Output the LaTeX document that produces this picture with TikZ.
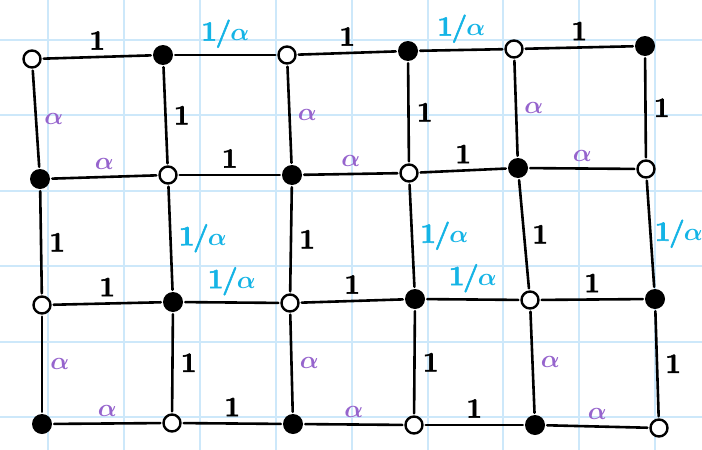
\documentclass[tikz,border=0pt]{standalone}
\usepackage{amsmath}
\usepackage{fontspec}
\setmainfont{Latin Modern Roman}[BoldFeatures={FakeBold=2}]
\usetikzlibrary{positioning}
\definecolor{gridblue}{RGB}{205,232,250}
\definecolor{acyan}{RGB}{20,180,230}
\definecolor{apurple}{RGB}{150,100,205}
\newcommand{\alf}{$\boldsymbol{\alpha}$}
\newcommand{\inva}{1\kern-1.5pt/\kern-1pt\alf}
\begin{document}
\begin{tikzpicture}[x=1pt,y=-1pt,
  openv/.style={circle,draw=black,fill=white,line width=2.4pt,minimum size=17pt,inner sep=0pt},
  fullv/.style={circle,fill=black,minimum size=20pt,inner sep=0pt},
  edge/.style={line width=2.6pt,line cap=round,shorten <=2pt,shorten >=2pt},
  lab/.style={font=\fontsize{28}{28}\selectfont\bfseries,inner sep=1pt},
  one/.style={lab,text=black},
  al/.style={lab,text=apurple},
  inv/.style={lab,text=acyan},
  ab/.style={midway,above=5pt},
  rt/.style={midway,right=6pt}
]
\fill[white] (0,0) rectangle (702,450);
\useasboundingbox (0,0) rectangle (702,450);
\foreach \k in {0,...,8} \draw[gridblue,line width=2pt] ({48+75.9*\k},0) -- ({48+75.9*\k},450);
\foreach \k in {0,...,5} \draw[gridblue,line width=2pt] (0,{40+75.4*\k}) -- (702,{40+75.4*\k});

% row 0
\node[openv] (v00) at (32,59) {};
\node[fullv] (v01) at (163,55) {};
\node[openv] (v02) at (287,55) {};
\node[fullv] (v03) at (408,51) {};
\node[openv] (v04) at (514,49) {};
\node[fullv] (v05) at (645,46) {};
% row 1
\node[fullv] (v10) at (40,179) {};
\node[openv] (v11) at (168,175) {};
\node[fullv] (v12) at (292,175) {};
\node[openv] (v13) at (409,173) {};
\node[fullv] (v14) at (518,168) {};
\node[openv] (v15) at (646,169) {};
% row 2
\node[openv] (v20) at (42,305) {};
\node[fullv] (v21) at (173,302) {};
\node[openv] (v22) at (290,303) {};
\node[fullv] (v23) at (415,299) {};
\node[openv] (v24) at (530,300) {};
\node[fullv] (v25) at (655,299) {};
% row 3
\node[fullv] (v30) at (42,424) {};
\node[openv] (v31) at (172,423) {};
\node[fullv] (v32) at (293,424) {};
\node[openv] (v33) at (414,425) {};
\node[fullv] (v34) at (535,425) {};
\node[openv] (v35) at (659,428) {};

% horizontal edges
\draw[edge] (v00) -- node[one,ab] (h00) {1} (v01);
\draw[edge] (v01) -- node[inv,ab] (h01) {\inva} (v02);
\draw[edge] (v02) -- node[one,ab] (h02) {1} (v03);
\draw[edge] (v03) -- node[inv,ab] (h03) {\inva} (v04);
\draw[edge] (v04) -- node[one,ab] (h04) {1} (v05);

\draw[edge] (v10) -- node[al,ab] (h10) {\alf} (v11);
\draw[edge] (v11) -- node[one,ab] (h11) {1} (v12);
\draw[edge] (v12) -- node[al,ab] (h12) {\alf} (v13);
\draw[edge] (v13) -- node[one,ab] (h13) {1} (v14);
\draw[edge] (v14) -- node[al,ab] (h14) {\alf} (v15);

\draw[edge] (v20) -- node[one,ab] (h20) {1} (v21);
\draw[edge] (v21) -- node[inv,ab] (h21) {\inva} (v22);
\draw[edge] (v22) -- node[one,ab] (h22) {1} (v23);
\draw[edge] (v23) -- node[inv,ab] (h23) {\inva} (v24);
\draw[edge] (v24) -- node[one,ab] (h24) {1} (v25);

\draw[edge] (v30) -- node[al,ab] (h30) {\alf} (v31);
\draw[edge] (v31) -- node[one,ab] (h31) {1} (v32);
\draw[edge] (v32) -- node[al,ab] (h32) {\alf} (v33);
\draw[edge] (v33) -- node[one,ab] (h33) {1} (v34);
\draw[edge] (v34) -- node[al,ab] (h34) {\alf} (v35);

% vertical edges
\draw[edge] (v00) -- node[al,rt] (u00) {\alf} (v10);
\draw[edge] (v01) -- node[one,rt] (u01) {1} (v11);
\draw[edge] (v02) -- node[al,rt] (u02) {\alf} (v12);
\draw[edge] (v03) -- node[one,rt] (u03) {1} (v13);
\draw[edge] (v04) -- node[al,rt] (u04) {\alf} (v14);
\draw[edge] (v05) -- node[one,rt] (u05) {1} (v15);

\draw[edge] (v10) -- node[one,rt] (u10) {1} (v20);
\draw[edge] (v11) -- node[inv,rt] (u11) {\inva} (v21);
\draw[edge] (v12) -- node[one,rt] (u12) {1} (v22);
\draw[edge] (v13) -- node[inv,rt] (u13) {\inva} (v23);
\draw[edge] (v14) -- node[one,rt] (u14) {1} (v24);
\draw[edge] (v15) -- node[inv,midway,right=2pt] (u15) {\inva} (v25);

\draw[edge] (v20) -- node[al,rt] (u20) {\alf} (v30);
\draw[edge] (v21) -- node[one,rt] (u21) {1} (v31);
\draw[edge] (v22) -- node[al,rt] (u22) {\alf} (v32);
\draw[edge] (v23) -- node[one,rt] (u23) {1} (v33);
\draw[edge] (v24) -- node[al,rt] (u24) {\alf} (v34);
\draw[edge] (v25) -- node[one,rt] (u25) {1} (v35);
\end{tikzpicture}
\end{document}
